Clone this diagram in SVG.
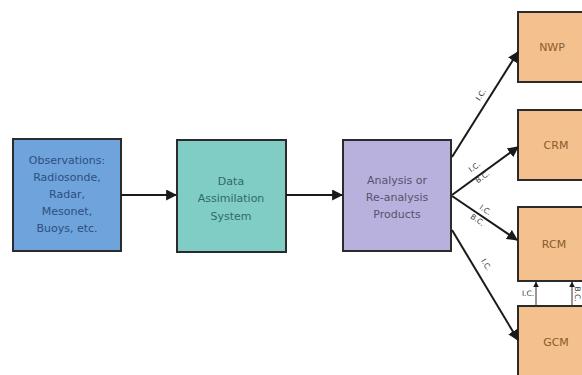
<svg xmlns="http://www.w3.org/2000/svg" width="582" height="375" viewBox="0 0 582 375">
  <defs>
    <marker id="arrow" viewBox="0 0 10 10" refX="9" refY="5" markerWidth="5.5" markerHeight="5.5" orient="auto" markerUnits="strokeWidth">
      <path d="M0,0 L10,5 L0,10 z" fill="#1a1a1a"/>
    </marker>
    <marker id="arrowSmall" viewBox="0 0 10 10" refX="9" refY="5" markerWidth="6" markerHeight="6" orient="auto" markerUnits="strokeWidth">
      <path d="M0,0 L10,5 L0,10 z" fill="#1a1a1a"/>
    </marker>
  </defs>
  <style>
    .box { stroke: #2b2b2b; stroke-width: 2; }
    .lbl { font-family: "DejaVu Sans", "Liberation Sans", sans-serif; font-size: 11px; text-anchor: middle; }
    .model { font-family: "DejaVu Sans", "Liberation Sans", sans-serif; font-size: 11px; text-anchor: middle; fill: #8a5a2c; }
    .edge { stroke: #1a1a1a; stroke-width: 2; fill: none; marker-end: url(#arrow); }
    .thin { stroke: #333; stroke-width: 1; fill: none; marker-end: url(#arrowSmall); }
    .tag { font-family: "DejaVu Sans", "Liberation Sans", sans-serif; font-size: 7.5px; fill: #333; text-anchor: middle; }
  </style>
  <rect width="582" height="375" fill="#ffffff"/>

  <g id="observations">
    <rect class="box" x="13" y="139" width="108" height="112" fill="#6ea3dc"/>
    <text class="lbl" fill="#2d4f7e" x="67" y="164">Observations:</text>
    <text class="lbl" fill="#2d4f7e" x="67" y="181">Radiosonde,</text>
    <text class="lbl" fill="#2d4f7e" x="67" y="198">Radar,</text>
    <text class="lbl" fill="#2d4f7e" x="67" y="215">Mesonet,</text>
    <text class="lbl" fill="#2d4f7e" x="67" y="232">Buoys, etc.</text>
  </g>

  <g id="assimilation">
    <rect class="box" x="177" y="140" width="109" height="112" fill="#80cdc5"/>
    <text class="lbl" fill="#2f6b66" x="231" y="185">Data</text>
    <text class="lbl" fill="#2f6b66" x="231" y="202">Assimilation</text>
    <text class="lbl" fill="#2f6b66" x="231" y="220">System</text>
  </g>

  <g id="analysis">
    <rect class="box" x="343" y="140" width="108" height="111" fill="#b8b1dd"/>
    <text class="lbl" fill="#57526e" x="397" y="184">Analysis or</text>
    <text class="lbl" fill="#57526e" x="397" y="201">Re-analysis</text>
    <text class="lbl" fill="#57526e" x="397" y="218">Products</text>
  </g>

  <g id="nwp">
    <rect class="box" x="518" y="12" width="90" height="70" fill="#f4c08e"/>
    <text class="model" x="552" y="51">NWP</text>
  </g>
  <g id="crm">
    <rect class="box" x="518" y="110" width="90" height="70" fill="#f4c08e"/>
    <text class="model" x="556" y="149">CRM</text>
  </g>
  <g id="rcm">
    <rect class="box" x="518" y="207" width="90" height="74" fill="#f4c08e"/>
    <text class="model" x="554" y="248">RCM</text>
  </g>
  <g id="gcm">
    <rect class="box" x="518" y="306" width="90" height="80" fill="#f4c08e"/>
    <text class="model" x="556" y="346">GCM</text>
  </g>

  <g id="connectors">
    <line class="edge" x1="121" y1="195" x2="176" y2="195"/>
    <line class="edge" x1="286" y1="195" x2="342" y2="195"/>
    <line class="edge" x1="452" y1="157" x2="518" y2="52"/>
    <line class="edge" x1="452" y1="195" x2="518" y2="147"/>
    <line class="edge" x1="452" y1="196" x2="517" y2="240"/>
    <line class="edge" x1="452" y1="230" x2="518" y2="340"/>
    <line class="thin" x1="536" y1="306" x2="536" y2="282"/>
    <line class="thin" x1="572" y1="306" x2="572" y2="282"/>

    <text class="tag" transform="translate(483,96) rotate(-58)">I.C.</text>
    <text class="tag" transform="translate(476,169) rotate(-36)">I.C.</text>
    <text class="tag" transform="translate(484,179) rotate(-36)">B.C.</text>
    <text class="tag" transform="translate(484,212) rotate(34)">I.C.</text>
    <text class="tag" transform="translate(476,222) rotate(34)">B.C.</text>
    <text class="tag" transform="translate(484,266) rotate(59)">I.C.</text>
    <text class="tag" x="528" y="296">I.C.</text>
    <text class="tag" transform="translate(575,294) rotate(90)">B.C.</text>
  </g>
</svg>
